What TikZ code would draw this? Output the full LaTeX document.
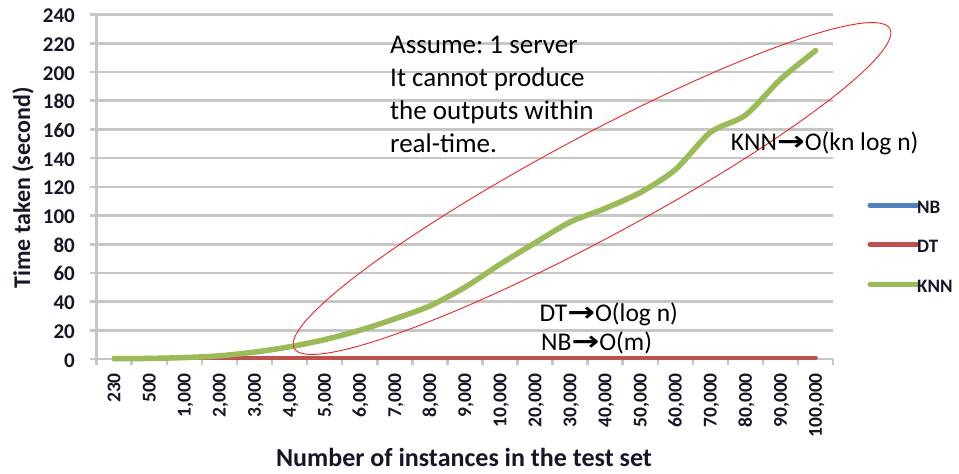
\documentclass[tikz,border=0pt]{standalone}
\usepackage{fontspec}
\usepackage{graphicx}
\setmainfont{Carlito}
\newfontfamily\arrowfont{DejaVu Sans}
\frenchspacing
\definecolor{gridgray}{RGB}{198,198,198}
\definecolor{nbblue}{RGB}{79,129,189}
\definecolor{dtred}{RGB}{192,80,77}
\definecolor{knngreen}{RGB}{155,187,89}
\definecolor{labelink}{RGB}{22,22,40}
\definecolor{ringred}{RGB}{232,38,38}
\newcommand{\hvarrow}{{\arrowfont\bfseries\scalebox{1.3}[1.05]{→}}}
\tikzset{
  gridline/.style={draw=gridgray, line width=2.6pt},
  axisline/.style={draw=gridgray, line width=2.6pt},
  yticklab/.style={anchor=east, text=labelink, font=\fontsize{21}{21}\selectfont\bfseries, inner sep=0pt, text height=13pt, text depth=0pt},
  xticklab/.style={anchor=east, rotate=90, text=labelink, font=\fontsize{19.5}{19.5}\selectfont\bfseries, inner sep=0pt, text height=12.5pt, text depth=0pt},
  axistitle/.style={text=labelink, font=\fontsize{#1}{#1}\selectfont\bfseries, inner sep=0pt},
  series/.style={line width=#1, line cap=round, line join=round},
  legendkey/.style={line width=5pt, line cap=round},
  legendlab/.style={anchor=west, text=labelink, font=\fontsize{19}{19}\selectfont\bfseries, inner sep=0pt},
  note/.style={anchor=base west, text=black, font=\fontsize{27}{27}\selectfont, inner sep=0pt},
  cnote/.style={anchor=base west, text=black, font=\fontsize{25.5}{25.5}\selectfont, inner sep=0pt},
}
\begin{document}
\begin{tikzpicture}[x=1pt, y=-1pt]
\useasboundingbox (0,0) rectangle (959,474);
\fill[white] (0,0) rectangle (959,474);

% value axis: 0 at y=359, 240 at y=14.7
\def\yzero{359}
\def\yscale{1.4346}
% category axis: 21 categories from x=96.7 to x=833
\def\xleft{96.7}
\def\xstep{35.07}

% horizontal gridlines and value labels
\foreach \v in {20,40,...,240}{
  \draw[gridline] (90,{\yzero-\v*\yscale}) -- (833,{\yzero-\v*\yscale});
}
\foreach \v in {0,20,...,240}{
  \node[yticklab] (ylab\v) at (75,{\yzero-\v*\yscale+1.5}) {\v};
}

% axes with tick marks
\draw[axisline] (90,\yzero) -- (833,\yzero);
\draw[axisline] (\xleft,14.7) -- (\xleft,\yzero);
\foreach \i in {0,...,21}{
  \draw[axisline] ({\xleft+\i*\xstep},\yzero) -- ({\xleft+\i*\xstep},365);
}

% category labels
\foreach \lab [count=\i from 0] in {230,500,{1,000},{2,000},{3,000},{4,000},{5,000},{6,000},{7,000},{8,000},{9,000},{10,000},{20,000},{30,000},{40,000},{50,000},{60,000},{70,000},{80,000},{90,000},{100,000}}{
  \node[xticklab] (xlab\i) at ({\xleft+(\i+0.5)*\xstep},373) {\lab};
}

% axis titles
\node[axistitle=24, rotate=90] (ytitle) at (23,188) {Time taken (second)};
\node[axistitle=26, anchor=base] (xtitle) at (464,466.7) {Number of instances in the test set};

% data series
\draw[series=4pt, nbblue] plot coordinates {
  ({\xleft+0.5*\xstep},{\yzero-0.6*\yscale}) ({\xleft+20.5*\xstep},{\yzero-0.6*\yscale})};
\draw[series=4pt, dtred] plot coordinates {
  ({\xleft+0.5*\xstep},{\yzero-1.0*\yscale}) ({\xleft+20.5*\xstep},{\yzero-1.0*\yscale})};
\draw[series=5.5pt, knngreen] plot[smooth, tension=0.45] coordinates {
  ({\xleft+0.5*\xstep},{\yzero-0.2*\yscale})
  ({\xleft+1.5*\xstep},{\yzero-0.4*\yscale})
  ({\xleft+2.5*\xstep},{\yzero-1.0*\yscale})
  ({\xleft+3.5*\xstep},{\yzero-2.2*\yscale})
  ({\xleft+4.5*\xstep},{\yzero-4.8*\yscale})
  ({\xleft+5.5*\xstep},{\yzero-8.5*\yscale})
  ({\xleft+6.5*\xstep},{\yzero-13.5*\yscale})
  ({\xleft+7.5*\xstep},{\yzero-20*\yscale})
  ({\xleft+8.5*\xstep},{\yzero-28*\yscale})
  ({\xleft+9.5*\xstep},{\yzero-37*\yscale})
  ({\xleft+10.5*\xstep},{\yzero-50*\yscale})
  ({\xleft+11.5*\xstep},{\yzero-66*\yscale})
  ({\xleft+12.5*\xstep},{\yzero-81*\yscale})
  ({\xleft+13.5*\xstep},{\yzero-95.5*\yscale})
  ({\xleft+14.5*\xstep},{\yzero-105*\yscale})
  ({\xleft+15.5*\xstep},{\yzero-116*\yscale})
  ({\xleft+16.5*\xstep},{\yzero-132*\yscale})
  ({\xleft+17.5*\xstep},{\yzero-158*\yscale})
  ({\xleft+18.5*\xstep},{\yzero-170*\yscale})
  ({\xleft+19.5*\xstep},{\yzero-195*\yscale})
  ({\xleft+20.5*\xstep},{\yzero-215*\yscale})
};

% legend
\draw[legendkey, nbblue] (870,205) -- (917,205);
\node[legendlab] (legnb) at (917,207) {NB};
\draw[legendkey, dtred] (870,244.3) -- (917,244.3);
\node[legendlab] (legdt) at (917,246.3) {DT};
\draw[legendkey, knngreen] (870,284.3) -- (917,284.3);
\node[legendlab] (legknn) at (917,286.3) {KNN};

% highlight ring around the KNN curve
\coordinate (ringc) at (592,188.5);
\draw[ringred, line width=0.9pt, rotate around={28.2:(ringc)}] (ringc) ellipse [x radius=338pt, y radius=51pt];

% annotations
\node[note] (note1) at (390,53.3) {Assume: 1 server};
\node[note] (note2) at (390,86.3) {It cannot produce};
\node[note] (note3) at (390,119.3) {the outputs within};
\node[note] (note4) at (390,152.3) {real-time.};
\node[cnote] (knnnote) at (730.7,150) {KNN\hvarrow O(kn log n)};
\node[cnote] (dtnote) at (539.3,321) {DT\hvarrow O(log n)};
\node[cnote] (nbnote) at (541,350) {NB\hvarrow O(m)};
\end{tikzpicture}
\end{document}
